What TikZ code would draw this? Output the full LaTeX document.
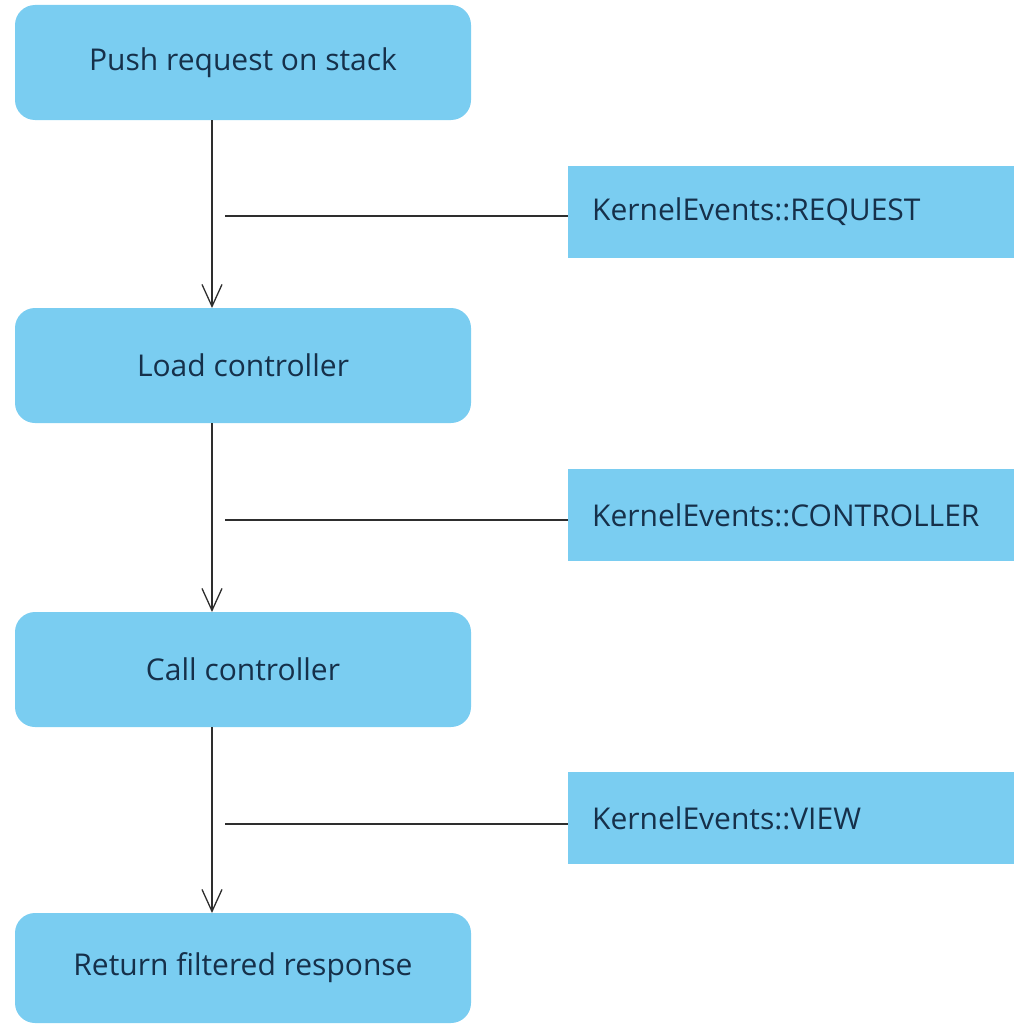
\documentclass[tikz,border=0pt]{standalone}
\usepackage{fontspec}
\setmainfont{Open Sans}
\usetikzlibrary{arrows.meta}
\definecolor{boxblue}{HTML}{7ACDF1}
\definecolor{textnavy}{HTML}{16304A}
\definecolor{linegray}{HTML}{2E2E2E}
\tikzset{
  x=1pt, y=-1pt,
  stepbox/.style={fill=boxblue, draw=none, rounded corners=20pt,
    minimum width=456pt, minimum height=115pt, inner sep=0pt,
    text=textnavy, font=\fontsize{30}{34}\selectfont},
  eventbox/.style={fill=boxblue, draw=none, minimum width=446pt,
    minimum height=92pt, inner xsep=24pt, inner ysep=0pt,
    text width=398pt, align=left, anchor=west,
    text=textnavy, font=\fontsize{30}{34}\selectfont},
  flow/.style={draw=linegray, line width=1.5pt,
    -{Straight Barb[length=22pt,width=20pt,line width=1.3pt]}},
  tie/.style={draw=linegray, line width=1.5pt},
}
\begin{document}
\begin{tikzpicture}
\useasboundingbox (0,0) rectangle (1014,1025);

% main processing steps
\node[stepbox] (push) at (243,62.5) {Push request on stack};
\node[stepbox] (load) at (243,365.5) {Load controller};
\node[stepbox] (call) at (243,669.5) {Call controller};
\node[stepbox, minimum height=110pt] (ret) at (243,968) {Return filtered response};

% kernel events dispatched between steps
\node[eventbox] (evreq) at (568,212) {KernelEvents::REQUEST};
\node[eventbox] (evctl) at (568,515) {KernelEvents::CONTROLLER};
\node[eventbox] (evview) at (568,818) {KernelEvents::VIEW};

% flow arrows
\draw[flow] (212,120) -- (212,308);
\draw[flow] (212,423) -- (212,612);
\draw[flow] (212,727) -- (212,913);

% event ties
\coordinate (t1) at (225,216);
\coordinate (t2) at (225,520);
\coordinate (t3) at (225,824);
\draw[tie] (t1) -- (t1 -| evreq.west);
\draw[tie] (t2) -- (t2 -| evctl.west);
\draw[tie] (t3) -- (t3 -| evview.west);
\end{tikzpicture}
\end{document}
